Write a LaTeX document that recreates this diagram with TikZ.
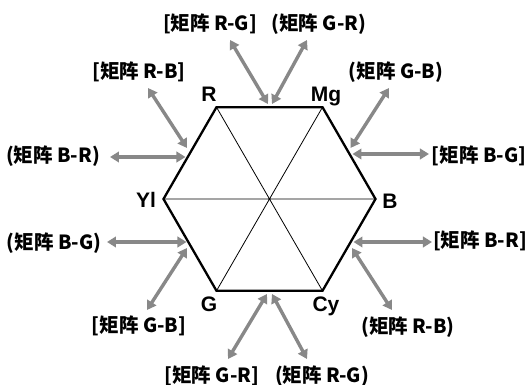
\documentclass[tikz,border=0pt]{standalone}
\usepackage{fontspec}
\setmainfont{Liberation Sans}
\newfontfamily\cjk{Noto Sans CJK SC}
\usetikzlibrary{arrows.meta}
\definecolor{linkgray}{RGB}{136,136,136}
\begin{document}
\begin{tikzpicture}[x=1pt,y=1pt,
  edge/.style={line width=2.3pt, line join=miter},
  spoke/.style={line width=0.8pt},
  link/.style={draw=linkgray, line width=3.4pt, {Triangle[length=9pt,width=10.5pt]}-{Triangle[length=9pt,width=10.5pt]}},
  mat/.style={font=\cjk\bfseries\fontsize{19.5}{19.5}\selectfont, inner sep=0pt},
  vtx/.style={font=\bfseries\fontsize{21}{21}\selectfont, anchor=base, inner sep=0pt}]
\useasboundingbox (-269.5,-186) rectangle (258.5,199);
% hexagon corners
\coordinate (R)  at (120:106);
\coordinate (Mg) at (60:106);
\coordinate (B)  at (0:106);
\coordinate (Cy) at (-60:106);
\coordinate (G)  at (-120:106);
\coordinate (Yl) at (180:106);
\draw[spoke] (R) -- (Cy) (Mg) -- (G) (Yl) -- (B);
\draw[edge] (R) -- (Mg) -- (B) -- (Cy) -- (G) -- (Yl) -- cycle;
\node[vtx] (lR)  at (-60.5,97.3)   {R};
\node[vtx] (lMg) at (56.5,97.3)    {Mg};
\node[vtx] (lB)  at (120.5,-9.5)   {B};
\node[vtx] (lYl) at (-123.5,-9)    {Yl};
\node[vtx] (lG)  at (-60.5,-112.5) {G};
\node[vtx] (lCy) at (56.5,-112.5)  {Cy};
% matrix labels
\node[mat] (sRG) at (-59.5,175) {[矩阵 R-G]};
\node[mat] (pGR) at (49.5,175)  {(矩阵 G-R)};
\node[mat] (sRB) at (-130.5,127) {[矩阵 R-B]};
\node[mat] (pGB) at (126.5,127)  {(矩阵 G-B)};
\node[mat] (pBR) at (-216.5,43)  {(矩阵 B-R)};
\node[mat] (sBG) at (209.5,43)   {[矩阵 B-G]};
\node[mat] (pBG) at (-215.5,-44) {(矩阵 B-G)};
\node[mat] (sBR) at (210.5,-42)  {[矩阵 B-R]};
\node[mat] (sGB) at (-130.5,-127) {[矩阵 G-B]};
\node[mat] (pRB) at (138.5,-128)  {(矩阵 R-B)};
\node[mat] (sGR) at (-57.5,-177) {[矩阵 G-R]};
\node[mat] (pRG) at (52.5,-177)  {(矩阵 R-G)};
% arrow ends
\coordinate (sRGa) at (-1.5,95);   \coordinate (sRGb) at (-39.5,159);
\coordinate (pGRa) at (2.5,95);    \coordinate (pGRb) at (37.5,159);
\coordinate (sRBa) at (-82.5,51);  \coordinate (sRBb) at (-121.5,111);
\coordinate (pGBa) at (81,51);     \coordinate (pGBb) at (119.5,111);
\coordinate (pBRa) at (-84,42);    \coordinate (pBRb) at (-159.5,42);
\coordinate (sBGa) at (83,45);     \coordinate (sBGb) at (159.5,45);
\coordinate (pBGa) at (-83,-43);   \coordinate (pBGb) at (-162.5,-43);
\coordinate (sBRa) at (84,-43);    \coordinate (sBRb) at (162.5,-43);
\coordinate (sGBa) at (-82.5,-49); \coordinate (sGBb) at (-122.5,-111);
\coordinate (pRBa) at (82.5,-49);  \coordinate (pRBb) at (122.5,-111);
\coordinate (sGRa) at (-2.5,-95);  \coordinate (sGRb) at (-41.5,-160);
\coordinate (pRGa) at (2.5,-95);   \coordinate (pRGb) at (37.5,-160);
\foreach \n in {sRG,pGR,sRB,pGB,pBR,sBG,pBG,sBR,sGB,pRB,sGR,pRG}
  \draw[link] (\n a) -- (\n b);
\end{tikzpicture}
\end{document}
